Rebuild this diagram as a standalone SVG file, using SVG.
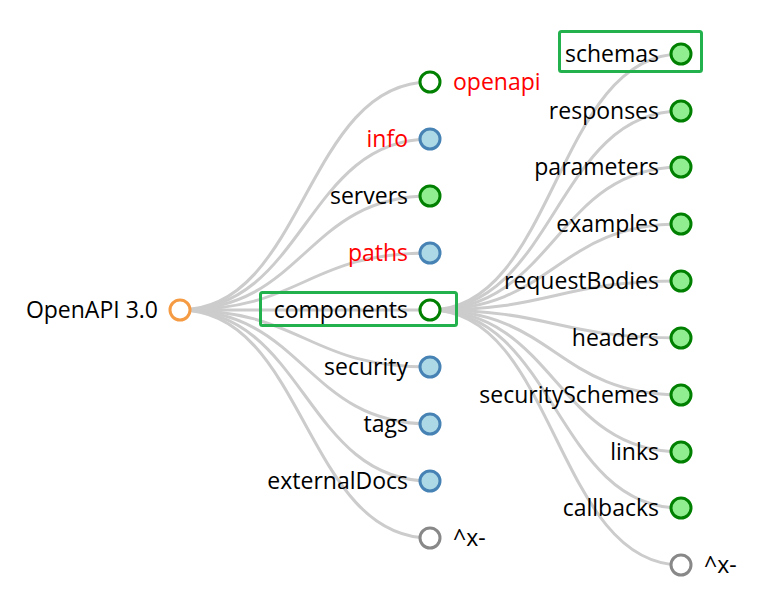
<svg xmlns="http://www.w3.org/2000/svg" width="766" height="599" viewBox="0 0 766 599">
<style>
.link{fill:none;stroke:#ccc;stroke-width:3}
text{font-family:"Open Sans","Noto Sans",sans-serif;font-size:23px;fill:#000;dominant-baseline:central}
.l{text-anchor:end}
.red{fill:#ff0000}
circle{stroke-width:3}
.root{fill:#fff;stroke:#f59b43}
.br{fill:#fff;stroke:#008000}
.lg{fill:#90ee90;stroke:#008000}
.lb{fill:#add8e6;stroke:#4682b4}
.gr{fill:#fff;stroke:#888}
.box{fill:none;stroke:#22b14c;stroke-width:3}
</style>
<g id="connectors">
<path class="link" d="M180,310C305,310 305,82 430,82"/>
<path class="link" d="M180,310C305,310 305,139 430,139"/>
<path class="link" d="M180,310C305,310 305,196 430,196"/>
<path class="link" d="M180,310C305,310 305,253 430,253"/>
<path class="link" d="M180,310C305,310 305,310 430,310"/>
<path class="link" d="M180,310C305,310 305,367 430,367"/>
<path class="link" d="M180,310C305,310 305,424 430,424"/>
<path class="link" d="M180,310C305,310 305,481 430,481"/>
<path class="link" d="M180,310C305,310 305,538 430,538"/>
<path class="link" d="M430,310C555.5,310 555.5,54 681,54"/>
<path class="link" d="M430,310C555.5,310 555.5,111 681,111"/>
<path class="link" d="M430,310C555.5,310 555.5,167 681,167"/>
<path class="link" d="M430,310C555.5,310 555.5,224 681,224"/>
<path class="link" d="M430,310C555.5,310 555.5,281 681,281"/>
<path class="link" d="M430,310C555.5,310 555.5,338 681,338"/>
<path class="link" d="M430,310C555.5,310 555.5,395 681,395"/>
<path class="link" d="M430,310C555.5,310 555.5,452 681,452"/>
<path class="link" d="M430,310C555.5,310 555.5,508 681,508"/>
<path class="link" d="M430,310C555.5,310 555.5,565 681,565"/>
</g>
<g id="root"><circle class="root" cx="180" cy="310" r="10"/><text class="l" x="158" y="309">OpenAPI 3.0</text></g>
<g id="openapi"><circle class="br" cx="430" cy="82" r="10"/><text class="red" x="453" y="81">openapi</text></g>
<g id="info"><circle class="lb" cx="430" cy="139" r="10"/><text class="l red" x="408" y="138">info</text></g>
<g id="servers"><circle class="lg" cx="430" cy="196" r="10"/><text class="l" x="408" y="195">servers</text></g>
<g id="paths"><circle class="lb" cx="430" cy="253" r="10"/><text class="l red" x="408" y="252">paths</text></g>
<g id="components"><rect class="box" x="260.5" y="292.5" width="196" height="33" rx="2"/><circle class="br" cx="430" cy="310" r="10"/><text class="l" x="408" y="309">components</text></g>
<g id="security"><circle class="lb" cx="430" cy="367" r="10"/><text class="l" x="408" y="366">security</text></g>
<g id="tags"><circle class="lb" cx="430" cy="424" r="10"/><text class="l" x="408" y="423">tags</text></g>
<g id="externalDocs"><circle class="lb" cx="430" cy="481" r="10"/><text class="l" x="408" y="480">externalDocs</text></g>
<g id="ext1"><circle class="gr" cx="430" cy="538" r="10"/><text x="453" y="537">^x-</text></g>
<g id="schemas"><rect class="box" x="559.5" y="31.5" width="142" height="40" rx="2"/><circle class="lg" cx="681" cy="54" r="10"/><text class="l" x="659" y="53">schemas</text></g>
<g id="responses"><circle class="lg" cx="681" cy="111" r="10"/><text class="l" x="659" y="110">responses</text></g>
<g id="parameters"><circle class="lg" cx="681" cy="167" r="10"/><text class="l" x="659" y="166">parameters</text></g>
<g id="examples"><circle class="lg" cx="681" cy="224" r="10"/><text class="l" x="659" y="223">examples</text></g>
<g id="requestBodies"><circle class="lg" cx="681" cy="281" r="10"/><text class="l" x="659" y="280">requestBodies</text></g>
<g id="headers"><circle class="lg" cx="681" cy="338" r="10"/><text class="l" x="659" y="337">headers</text></g>
<g id="securitySchemes"><circle class="lg" cx="681" cy="395" r="10"/><text class="l" x="659" y="394">securitySchemes</text></g>
<g id="links"><circle class="lg" cx="681" cy="452" r="10"/><text class="l" x="659" y="451">links</text></g>
<g id="callbacks"><circle class="lg" cx="681" cy="508" r="10"/><text class="l" x="659" y="507">callbacks</text></g>
<g id="ext2"><circle class="gr" cx="681" cy="565" r="10"/><text x="704" y="564">^x-</text></g>
</svg>
